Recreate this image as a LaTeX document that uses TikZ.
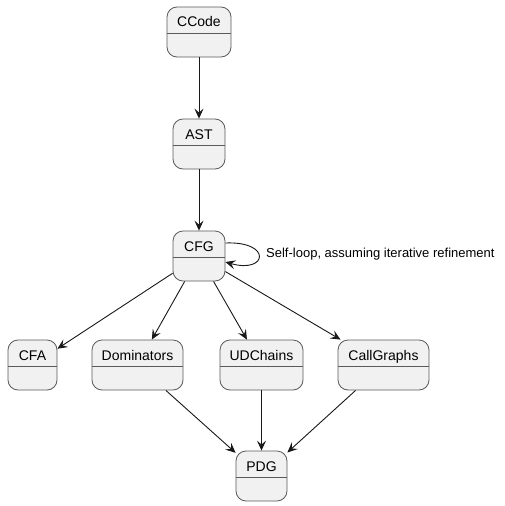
\documentclass[tikz,border=0pt]{standalone}
\usepackage{fontspec}
\setmainfont{Liberation Sans}
\usetikzlibrary{arrows.meta}
\definecolor{stfill}{HTML}{F1F1F1}
\definecolor{stborder}{HTML}{5A5A5A}
\definecolor{lnk}{HTML}{181818}
\tikzset{
  state/.style={draw=stborder, line width=0.8pt, fill=stfill, rounded corners=10pt,
    minimum height=50pt, inner xsep=0pt, inner ysep=0pt,
    text height=20pt, text depth=30pt,
    font=\fontsize{14}{16}\selectfont,
    path picture={\draw[stborder, line width=0.8pt]
      ([yshift=-26.5pt]path picture bounding box.north west) --
      ([yshift=-26.5pt]path picture bounding box.north east);}},
  arr/.style={draw=lnk, line width=0.9pt,
    -{Stealth[length=10pt,width=9pt,inset=4pt]}},
  note/.style={font=\fontsize{13}{15}\selectfont, anchor=west, inner sep=0pt, text=black}
}
\begin{document}
\begin{tikzpicture}[x=1pt,y=-1pt]
\useasboundingbox (0,0) rectangle (505,506);
\node[state, minimum width=64pt] (ccode) at (199,32) {CCode};
\node[state, minimum width=52pt] (ast) at (199,144) {AST};
\node[state, minimum width=52pt] (cfg) at (199,256) {CFG};
\node[state, minimum width=49pt] (cfa) at (32.5,365) {CFA};
\node[state, minimum width=91pt] (dom) at (137.5,365) {Dominators};
\node[state, minimum width=83pt] (ud) at (261.5,365) {UDChains};
\node[state, minimum width=91pt] (cg) at (383.5,365) {CallGraphs};
\node[state, minimum width=51pt] (pdg) at (261.5,476) {PDG};
\node[note] (lbl) at (266,254) {Self-loop, assuming iterative refinement};

\draw[arr] (ccode) -- (ast);
\draw[arr] (ast) -- (cfg);
\draw[arr] ([yshift=13pt]cfg.east) .. controls +(47pt,2pt) and +(42pt,-12pt) .. ([yshift=-6pt]cfg.east);
\draw[arr] (cfg) -- (cfa);
\draw[arr] (cfg) -- (dom);
\draw[arr] (cfg) -- (ud);
\draw[arr] (cfg) -- (cg);
\draw[arr] (dom) -- (pdg);
\draw[arr] (ud) -- (pdg);
\draw[arr] (cg) -- (pdg);
\end{tikzpicture}
\end{document}
